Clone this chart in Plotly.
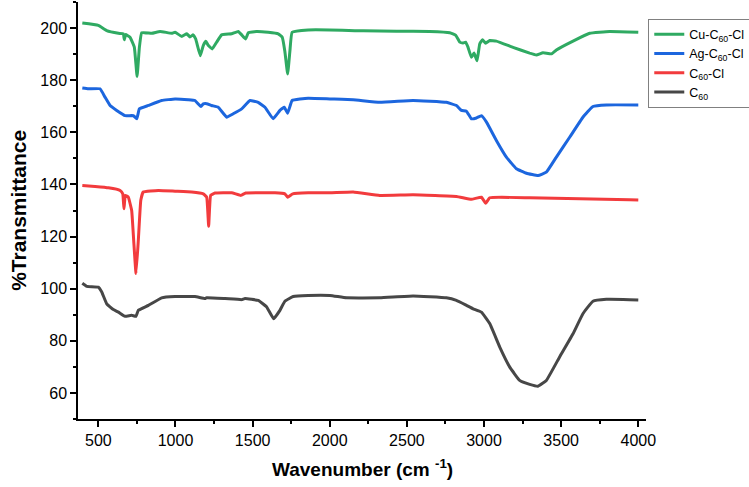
import plotly.graph_objects as go

# Cu-C60-Cl
cu_wn = [396, 500, 554, 630, 662, 668, 677, 705, 733, 751, 766, 781, 846, 900, 975, 997,
         1040, 1073, 1094, 1115, 1131, 1161, 1180, 1197, 1212, 1238, 1267, 1299, 1364, 1407,
         1429, 1455, 1472, 1526, 1601, 1666, 1692, 1709, 1727, 1742, 1756, 1860, 2001, 2163,
         2216, 2433, 2648, 2778, 2817, 2843, 2865, 2881, 2896, 2918, 2935, 2955, 2972, 2990,
         3011, 3037, 3080, 3188, 3296, 3339, 3382, 3437, 3469, 3577, 3685, 3814, 4000]
cu_t = [201.9, 201.0, 199.0, 198.0, 197.8, 195.5, 197.5, 196.5, 192.7, 181.4, 192.7, 198.2,
        198.0, 198.7, 198.0, 198.4, 196.8, 197.8, 196.6, 197.4, 195.8, 189.4, 193.3, 194.9,
        193.4, 192.0, 194.6, 197.4, 197.8, 198.7, 197.4, 195.8, 198.2, 198.7, 198.4, 197.8,
        196.5, 191.0, 182.4, 191.4, 198.4, 199.3, 199.3, 199.0, 199.0, 198.8, 198.7, 198.2,
        197.2, 194.6, 194.3, 194.6, 192.7, 188.8, 190.4, 187.5, 193.9, 195.5, 194.2, 195.2,
        195.0, 192.6, 190.4, 189.7, 190.5, 190.1, 191.6, 195.0, 198.0, 198.7, 198.4]

# Ag-C60-Cl
ag_wn = [396, 435, 511, 543, 576, 619, 673, 727, 749, 766, 824, 910, 997, 1083, 1126, 1165,
         1180, 1202, 1234, 1277, 1332, 1374, 1429, 1483, 1536, 1580, 1633, 1677, 1705, 1727,
         1756, 1860, 2001, 2152, 2324, 2540, 2756, 2821, 2853, 2886, 2918, 2951, 2983, 3016,
         3080, 3145, 3210, 3275, 3350, 3404, 3469, 3555, 3641, 3706, 3793, 4000]
ag_t = [177.0, 176.7, 176.7, 173.5, 170.3, 168.4, 166.4, 166.4, 165.2, 169.0, 170.3, 172.2,
        172.8, 172.5, 172.2, 169.9, 170.9, 171.0, 170.3, 169.6, 165.8, 167.1, 169.0, 172.2,
        171.5, 169.6, 165.2, 168.4, 169.6, 167.3, 172.2, 173.1, 172.8, 172.5, 171.5, 172.2,
        171.5, 170.3, 168.4, 168.1, 165.2, 165.5, 166.4, 163.9, 156.9, 150.5, 146.0, 144.3,
        143.4, 144.7, 150.5, 158.1, 165.8, 169.9, 170.5, 170.5]

# C60-Cl
cl_wn = [396, 479, 565, 641, 658, 666, 675, 694, 716, 729, 744, 759, 775, 791, 889, 997,
         1105, 1180, 1202, 1215, 1228, 1256, 1364, 1424, 1455, 1645, 1709, 1727, 1760, 1860,
         2001, 2152, 2324, 2540, 2821, 2918, 2983, 3011, 3037, 3296, 3620, 3944, 4000]
cl_t = [139.6, 139.2, 138.7, 137.7, 136.4, 130.7, 135.8, 135.1, 130.0, 118.5, 105.8, 118.5,
        133.9, 137.1, 137.7, 137.4, 137.1, 136.4, 135.1, 124.0, 135.8, 136.7, 136.8, 135.8,
        136.7, 136.8, 136.4, 135.1, 136.4, 136.8, 136.8, 137.1, 135.8, 136.0, 135.4, 134.3,
        135.1, 132.8, 134.9, 134.9, 134.5, 134.1, 134.0]

# C60
c60_wn = [396, 425, 500, 522, 554, 597, 630, 673, 716, 744, 759, 824, 910, 997, 1126, 1191,
          1202, 1321, 1429, 1451, 1536, 1591, 1636, 1677, 1709, 1763, 1860, 2001, 2109, 2324,
          2540, 2756, 2821, 2886, 2929, 2983, 3037, 3102, 3167, 3231, 3296, 3350, 3404, 3490,
          3577, 3641, 3706, 3793, 3944, 4000]
c60_t = [102.1, 100.9, 100.6, 98.7, 94.2, 92.0, 91.0, 89.4, 89.8, 89.4, 91.7, 93.6, 96.5,
         97.0, 97.0, 96.2, 96.5, 96.2, 95.8, 96.2, 95.5, 93.0, 88.5, 91.7, 95.2, 97.0, 97.4,
         97.4, 96.5, 96.5, 97.2, 96.5, 95.5, 93.6, 92.3, 91.0, 86.6, 77.6, 69.9, 64.8, 63.3,
         62.6, 64.8, 73.8, 82.7, 90.4, 95.2, 95.9, 95.8, 95.7]

names = ["Cu-C<sub>60</sub>-Cl", "Ag-C<sub>60</sub>-Cl", "C<sub>60</sub>-Cl", "C<sub>60</sub>"]
colors = ["#2FAA62", "#1C66DE", "#F23B3D", "#474747"]
series = [(cu_wn, cu_t), (ag_wn, ag_t), (cl_wn, cl_t), (c60_wn, c60_t)]

fig = go.Figure()
for (x, y), n, c in zip(series, names, colors):
    fig.add_trace(go.Scatter(x=x, y=y, mode="lines", name=n,
                             line=dict(color=c, width=3, shape="spline", smoothing=0.3)))

font = "Liberation Sans, Arial, sans-serif"
fig.update_layout(
    width=749, height=487,
    margin=dict(l=78, r=103, t=2, b=68, autoexpand=False),
    paper_bgcolor="white", plot_bgcolor="white",
    font=dict(family=font, color="black"),
    showlegend=True,
    legend=dict(x=1.004, y=0.96, xanchor="left", yanchor="top",
                bordercolor="#808080", borderwidth=1, bgcolor="white",
                font=dict(size=12.5, family=font), tracegroupgap=0, itemwidth=30),
    xaxis=dict(range=[368, 4050], tickvals=[500, 1000, 1500, 2000, 2500, 3000, 3500, 4000],
               automargin=False,
               showgrid=False, zeroline=False, showline=True, linecolor="black", linewidth=1.5,
               ticks="outside", ticklen=6, tickwidth=1.5, tickcolor="black",
               tickfont=dict(size=16),
               minor=dict(ticks="outside", ticklen=3, tickwidth=1.5, tickcolor="black", dtick=250, tick0=250)),
    yaxis=dict(range=[50, 210], tickvals=[60, 80, 100, 120, 140, 160, 180, 200],
               automargin=False,
               showgrid=False, zeroline=False, showline=True, linecolor="black", linewidth=1.5,
               ticks="outside", ticklen=6, tickwidth=1.5, tickcolor="black",
               tickfont=dict(size=16),
               minor=dict(ticks="outside", ticklen=3, tickwidth=1.5, tickcolor="black", dtick=10, tick0=50)),
    annotations=[
        dict(text="<b>%Transmittance</b>", xref="paper", yref="paper",
             x=-0.105, y=0.5, textangle=-90, showarrow=False,
             font=dict(size=21, family=font), xanchor="center", yanchor="middle"),
        dict(text="<b>Wavenumber (cm <sup>-1</sup>)</b>", xref="paper", yref="paper",
             x=0.5, y=-0.118, showarrow=False,
             font=dict(size=19, family=font), xanchor="center", yanchor="middle"),
    ],
)

fig.write_html("out.html", config={"displayModeBar": False},
               post_script="document.body.style.margin='0';document.body.style.padding='0';")
